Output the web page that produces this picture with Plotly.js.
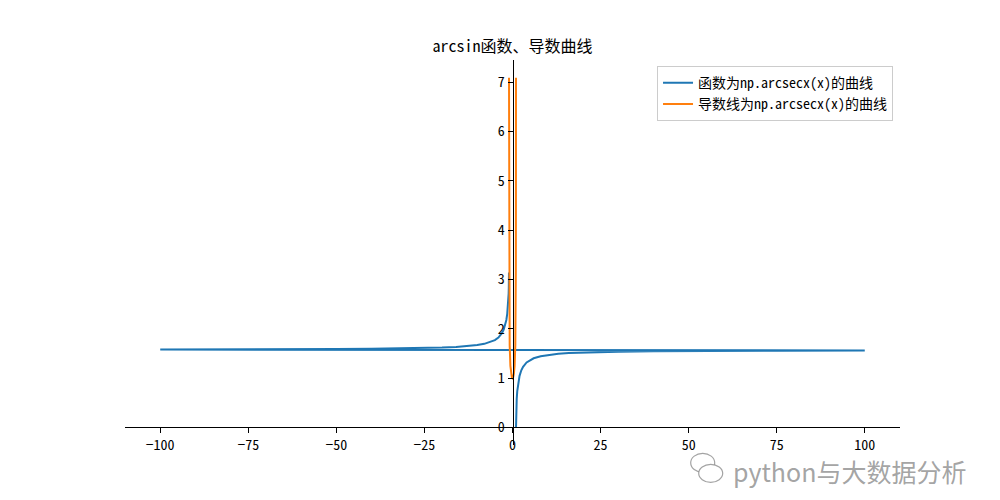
<!DOCTYPE html>
<html>
<head>
<meta charset="utf-8">
<script src="https://cdn.plot.ly/plotly-3.0.1.min.js"></script>
<style>html,body{margin:0;padding:0;background:#fff;}#chart{width:1000px;height:500px;}</style>
</head>
<body>
<div id="chart"></div>
<script>
// 函数曲线 (arcsec): right branch x=1..100, then left branch x=-100..-1 (as drawn)
var funcX = [1, 1.01, 1.05, 1.1, 1.2, 1.35, 1.5, 1.75, 2, 2.5, 3, 4, 5, 6, 8, 10, 13, 16, 20, 25, 30, 40, 50, 60, 75, 100,
             -100, -75, -60, -50, -40, -30, -25, -20, -16, -13, -10, -8, -6, -5, -4, -3, -2.5, -2, -1.75, -1.5, -1.35, -1.2, -1.1, -1.05, -1.01, -1];
var funcY = [0, 0.1404, 0.3098, 0.4296, 0.5857, 0.7376, 0.8411, 0.9626, 1.0472, 1.1593, 1.2310, 1.3181, 1.3694, 1.4033, 1.4455, 1.4706, 1.4938, 1.5083, 1.5208, 1.5308, 1.5375, 1.5458, 1.5508, 1.5541, 1.5575, 1.5608,
             1.5808, 1.5841, 1.5875, 1.5908, 1.5958, 1.6041, 1.6108, 1.6208, 1.6333, 1.6478, 1.6710, 1.6961, 1.7383, 1.7722, 1.8235, 1.9106, 1.9823, 2.0944, 2.1790, 2.3005, 2.4040, 2.5559, 2.7120, 2.8318, 3.0012, 3.1416];
// 导数曲线
var derivX = [-0.99, -0.98, -0.95, -0.9, -0.8, -0.6, -0.4, -0.2, 0, 0.2, 0.4, 0.6, 0.8, 0.9, 0.95, 0.98, 0.99];
var derivY = [7.089, 5.025, 3.203, 2.294, 1.667, 1.25, 1.091, 1.021, 1, 1.021, 1.091, 1.25, 1.667, 2.294, 3.203, 5.025, 7.089];

var xTicks = [-100, -75, -50, -25, 0, 25, 50, 75, 100];
var yTicks = [0, 1, 2, 3, 4, 5, 6, 7];
var seriesNames = ['函数为np.arcsecx(x)的曲线', '导数线为np.arcsecx(x)的曲线'];
var titleText = 'arcsin函数、导数曲线';
var watermark = 'python与大数据分析';

var FONT = '"Noto Sans Mono CJK SC", "Noto Sans CJK SC", "DejaVu Sans", sans-serif';
var xRange = [-110, 110];
var yRange = [-0.355, 7.45];
var y0frac = (0 - yRange[0]) / (yRange[1] - yRange[0]);
var x0frac = (0 - xRange[0]) / (xRange[1] - xRange[0]);

var traces = [
  {x: funcX, y: funcY, type: 'scatter', mode: 'lines', name: seriesNames[0],
   line: {color: '#1f77b4', width: 2}},
  {x: derivX, y: derivY, type: 'scatter', mode: 'lines', name: seriesNames[1],
   line: {color: '#ff7f0e', width: 2}}
];

var axisCommon = {
  showgrid: false, zeroline: false, showline: true, linecolor: '#000', linewidth: 1,
  ticks: 'outside', ticklen: 5, tickwidth: 1, tickcolor: '#000',
  tickfont: {family: FONT, size: 14, color: '#000'}
};

var wmColor = 'rgba(140,140,140,0.8)';
var layout = {
  width: 1000, height: 500,
  margin: {l: 125, r: 100, t: 60, b: 55},
  paper_bgcolor: '#fff', plot_bgcolor: '#fff',
  title: {text: titleText, x: 0.5125, xanchor: 'center', y: 0.908, yanchor: 'middle',
          font: {family: FONT, size: 16, color: '#000'}},
  xaxis: Object.assign({}, axisCommon, {range: xRange, tickvals: xTicks, anchor: 'free', position: y0frac}),
  yaxis: Object.assign({}, axisCommon, {range: yRange, tickvals: yTicks, anchor: 'free', position: x0frac}),
  showlegend: true,
  legend: {x: 0.991, y: 0.984, xanchor: 'right', yanchor: 'top', bgcolor: '#fff',
           bordercolor: '#cccccc', borderwidth: 1,
           font: {family: FONT, size: 14, color: '#000'}},
  shapes: [
    {type: 'circle', xref: 'paper', yref: 'paper', x0: -0.0, y0: 0, x1: 0, y1: 0, visible: false},
    {type: 'circle', xsizemode: 'pixel', ysizemode: 'pixel', xref: 'paper', yref: 'paper',
     xanchor: 0.748, yanchor: -0.045, x0: -14, x1: 10, y0: -10, y1: 9,
     line: {color: wmColor, width: 1.2}, fillcolor: 'rgba(255,255,255,0)'},
    {type: 'circle', xsizemode: 'pixel', ysizemode: 'pixel', xref: 'paper', yref: 'paper',
     xanchor: 0.748, yanchor: -0.045, x0: -6, x1: 18, y0: -20, y1: -2,
     line: {color: wmColor, width: 1.2}, fillcolor: '#fff'}
  ],
  annotations: [
    {text: watermark, xref: 'paper', yref: 'paper', x: 1.088, y: -0.068, xanchor: 'right', yanchor: 'middle',
     showarrow: false, font: {family: '"Noto Sans CJK SC", sans-serif', size: 25, color: wmColor}}
  ]
};

Plotly.newPlot('chart', traces, layout, {displayModeBar: false, staticPlot: true});
</script>
</body>
</html>
